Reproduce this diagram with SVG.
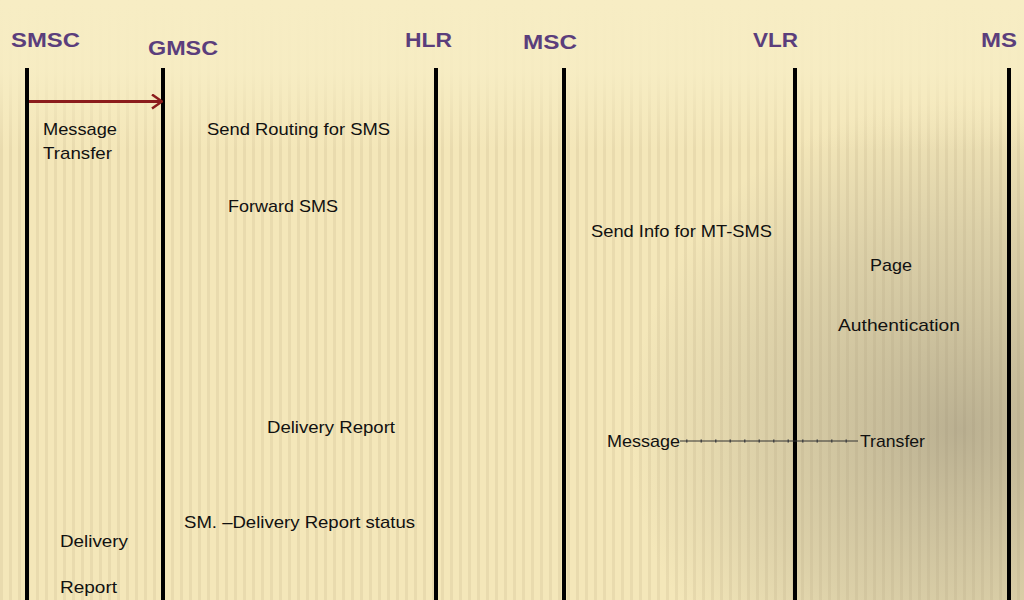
<svg xmlns="http://www.w3.org/2000/svg" width="1024" height="600" viewBox="0 0 1024 600">
  <defs>
    <style>
      .hdr { font-family: "Liberation Sans", Arial, sans-serif; font-weight: bold; font-size: 20px; fill: #5b3e7c; }
      .lbl { font-family: "Liberation Sans", Arial, sans-serif; font-size: 17px; fill: #111; }
      .life { stroke: #000; stroke-width: 4; }
    </style>
    <pattern id="stripes" width="9" height="600" patternUnits="userSpaceOnUse">
      <rect x="0" y="0" width="3" height="600" fill="#c9b98a" opacity="0.25"/>
    </pattern>
    <radialGradient id="shade" cx="960" cy="430" r="330" gradientUnits="userSpaceOnUse">
      <stop offset="0" stop-color="#8a8270" stop-opacity="0.55"/>
      <stop offset="0.6" stop-color="#a39a80" stop-opacity="0.3"/>
      <stop offset="1" stop-color="#a39a80" stop-opacity="0"/>
    </radialGradient>
    <linearGradient id="topfade" x1="0" y1="0" x2="0" y2="1">
      <stop offset="0" stop-color="#f7edc4" stop-opacity="1"/>
      <stop offset="0.12" stop-color="#f7edc4" stop-opacity="0.9"/>
      <stop offset="0.25" stop-color="#f7edc4" stop-opacity="0"/>
    </linearGradient>
    <marker id="arr" viewBox="0 0 12 16" refX="11" refY="8" markerWidth="12" markerHeight="16" markerUnits="userSpaceOnUse" orient="auto">
      <path d="M1,1 L11,8 L1,15" fill="none" stroke="#8b1c1c" stroke-width="2.5"/>
    </marker>
  </defs>

  <rect x="0" y="0" width="1024" height="600" fill="#f4e7b9"/>
  <rect x="0" y="0" width="1024" height="600" fill="url(#stripes)"/>
  <rect x="0" y="0" width="1024" height="600" fill="url(#shade)"/>
  <rect x="0" y="0" width="1024" height="600" fill="url(#topfade)"/>

  <g id="SMSC">
    <text class="hdr" x="11" y="47" textLength="69" lengthAdjust="spacingAndGlyphs">SMSC</text>
    <line class="life" x1="27" y1="68" x2="27" y2="600"/>
  </g>
  <g id="GMSC">
    <text class="hdr" x="148" y="55" textLength="70" lengthAdjust="spacingAndGlyphs">GMSC</text>
    <line class="life" x1="163" y1="68" x2="163" y2="600"/>
  </g>
  <g id="HLR">
    <text class="hdr" x="405" y="47" textLength="47" lengthAdjust="spacingAndGlyphs">HLR</text>
    <line class="life" x1="436" y1="68" x2="436" y2="600"/>
  </g>
  <g id="MSC">
    <text class="hdr" x="523" y="49" textLength="54" lengthAdjust="spacingAndGlyphs">MSC</text>
    <line class="life" x1="564" y1="68" x2="564" y2="600"/>
  </g>
  <g id="VLR">
    <text class="hdr" x="753" y="47" textLength="45" lengthAdjust="spacingAndGlyphs">VLR</text>
    <line class="life" x1="795" y1="68" x2="795" y2="600"/>
  </g>
  <g id="MS">
    <text class="hdr" x="981" y="47" textLength="36" lengthAdjust="spacingAndGlyphs">MS</text>
    <line class="life" x1="1009" y1="68" x2="1009" y2="600"/>
  </g>

  <g id="connectors">
    <line x1="29" y1="101.5" x2="162" y2="101.5" stroke="#8b1c1c" stroke-width="3" marker-end="url(#arr)"/>
    <line x1="680" y1="441" x2="858" y2="441" stroke="#333" stroke-width="1"/>
    <line x1="686" y1="441" x2="858" y2="441" stroke="#444" stroke-width="3" stroke-dasharray="1.5 13"/>
  </g>

  <g id="labels">
    <text class="lbl" x="43" y="135" textLength="74" lengthAdjust="spacingAndGlyphs">Message</text>
    <text class="lbl" x="43" y="159" textLength="69" lengthAdjust="spacingAndGlyphs">Transfer</text>
    <text class="lbl" x="207" y="135" textLength="183" lengthAdjust="spacingAndGlyphs">Send Routing for SMS</text>
    <text class="lbl" x="228" y="212" textLength="110" lengthAdjust="spacingAndGlyphs">Forward SMS</text>
    <text class="lbl" x="591" y="237" textLength="181" lengthAdjust="spacingAndGlyphs">Send Info for MT-SMS</text>
    <text class="lbl" x="870" y="271" textLength="42" lengthAdjust="spacingAndGlyphs">Page</text>
    <text class="lbl" x="838" y="331" textLength="122" lengthAdjust="spacingAndGlyphs">Authentication</text>
    <text class="lbl" x="267" y="433" textLength="128" lengthAdjust="spacingAndGlyphs">Delivery Report</text>
    <text class="lbl" x="607" y="447" textLength="73" lengthAdjust="spacingAndGlyphs">Message</text>
    <text class="lbl" x="860" y="447" textLength="65" lengthAdjust="spacingAndGlyphs">Transfer</text>
    <text class="lbl" x="184" y="528" textLength="231" lengthAdjust="spacingAndGlyphs">SM. –Delivery Report status</text>
    <text class="lbl" x="60" y="547" textLength="68" lengthAdjust="spacingAndGlyphs">Delivery</text>
    <text class="lbl" x="60" y="593" textLength="57" lengthAdjust="spacingAndGlyphs">Report</text>
  </g>
</svg>
